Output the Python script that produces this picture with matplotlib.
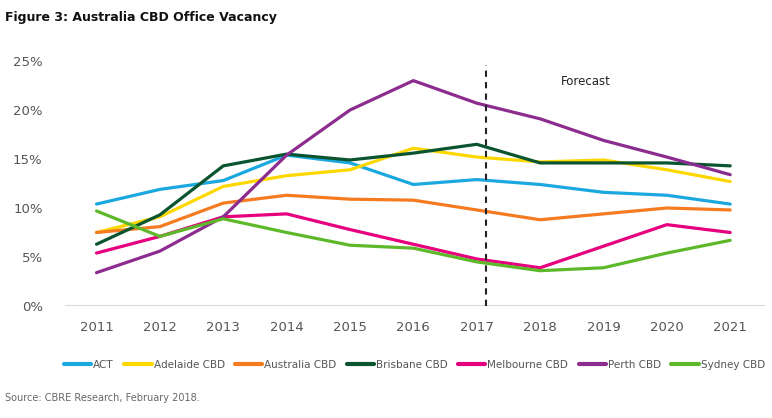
import matplotlib
matplotlib.use('Agg')
import matplotlib.pyplot as plt
import numpy as np

plt.rcParams['font.family'] = ['DejaVu Sans']

years = [2011, 2012, 2013, 2014, 2015, 2016, 2017, 2018, 2019, 2020, 2021]

act = [10.4, 11.9, 12.8, 15.4, 14.6, 12.4, 12.9, 12.4, 11.6, 11.3, 10.4]
adelaide = [7.5, 9.1, 12.2, 13.3, 13.9, 16.1, 15.2, 14.7, 14.9, 13.9, 12.7]
australia = [7.5, 8.1, 10.5, 11.3, 10.9, 10.8, 9.8, 8.8, 9.4, 10.0, 9.8]
brisbane = [6.3, 9.3, 14.3, 15.5, 14.9, 15.6, 16.5, 14.6, 14.6, 14.6, 14.3]
melbourne = [5.4, 7.1, 9.1, 9.4, 7.8, 6.3, 4.8, 3.9, 6.1, 8.3, 7.5]
perth = [3.4, 5.6, 9.1, 15.4, 20.0, 23.0, 20.7, 19.1, 16.9, 15.2, 13.4]
sydney = [9.7, 7.1, 8.9, 7.5, 6.2, 5.9, 4.5, 3.6, 3.9, 5.4, 6.7]

series = [
    ('ACT', act, '#1ba8df'),
    ('Adelaide CBD', adelaide, '#fdd800'),
    ('Australia CBD', australia, '#f47b20'),
    ('Brisbane CBD', brisbane, '#0b5430'),
    ('Melbourne CBD', melbourne, '#e6007e'),
    ('Perth CBD', perth, '#8b2c8e'),
    ('Sydney CBD', sydney, '#5db82a'),
]

fig = plt.figure(figsize=(7.72, 4.18), dpi=100)
ax = fig.add_axes([0.084, 0.268, 0.907, 0.586])

for name, vals, col in series:
    ax.plot(years, vals, color=col, linewidth=2.3, label=name,
            solid_capstyle='round')

ax.axhline(0, color='#d9d9d9', linewidth=1.5, zorder=0)
ax.plot([2017.15, 2017.15], [0, 24.6], color='#222222', linewidth=1.5,
        linestyle=(0, (3, 2.5)))
ax.text(2018.72, 22.9, 'Forecast', ha='center', va='center',
        fontsize=8.5, color='#222222')

ax.set_xlim(2010.5, 2021.55)
ax.set_ylim(0, 25)
ax.set_xticks(years)
ax.set_xticklabels([str(y) for y in years])
ax.set_yticks([0, 5, 10, 15, 20, 25])
ax.set_yticklabels(['{}%'.format(v) for v in [0, 5, 10, 15, 20, 25]])
for s in ax.spines.values():
    s.set_visible(False)
ax.tick_params(length=0, labelsize=9.5, colors='#555555', pad=11)
ax.tick_params(axis='y', pad=16)

leg = fig.legend(loc='center', bbox_to_anchor=(0.537, 0.127), ncol=7,
                 frameon=False, fontsize=7.5, handlelength=2.6,
                 handletextpad=0.2, columnspacing=1.0, labelcolor='#555555')
for h in leg.legend_handles:
    h.set_linewidth(3.0)

fig.text(0.007, 0.958, 'Figure 3: Australia CBD Office Vacancy',
         fontsize=9, fontweight='bold', color='#111111', va='center')
fig.text(0.007, 0.048, 'Source: CBRE Research, February 2018.',
         fontsize=7, color='#666666', va='center')

fig.savefig('out.png', dpi=100)
